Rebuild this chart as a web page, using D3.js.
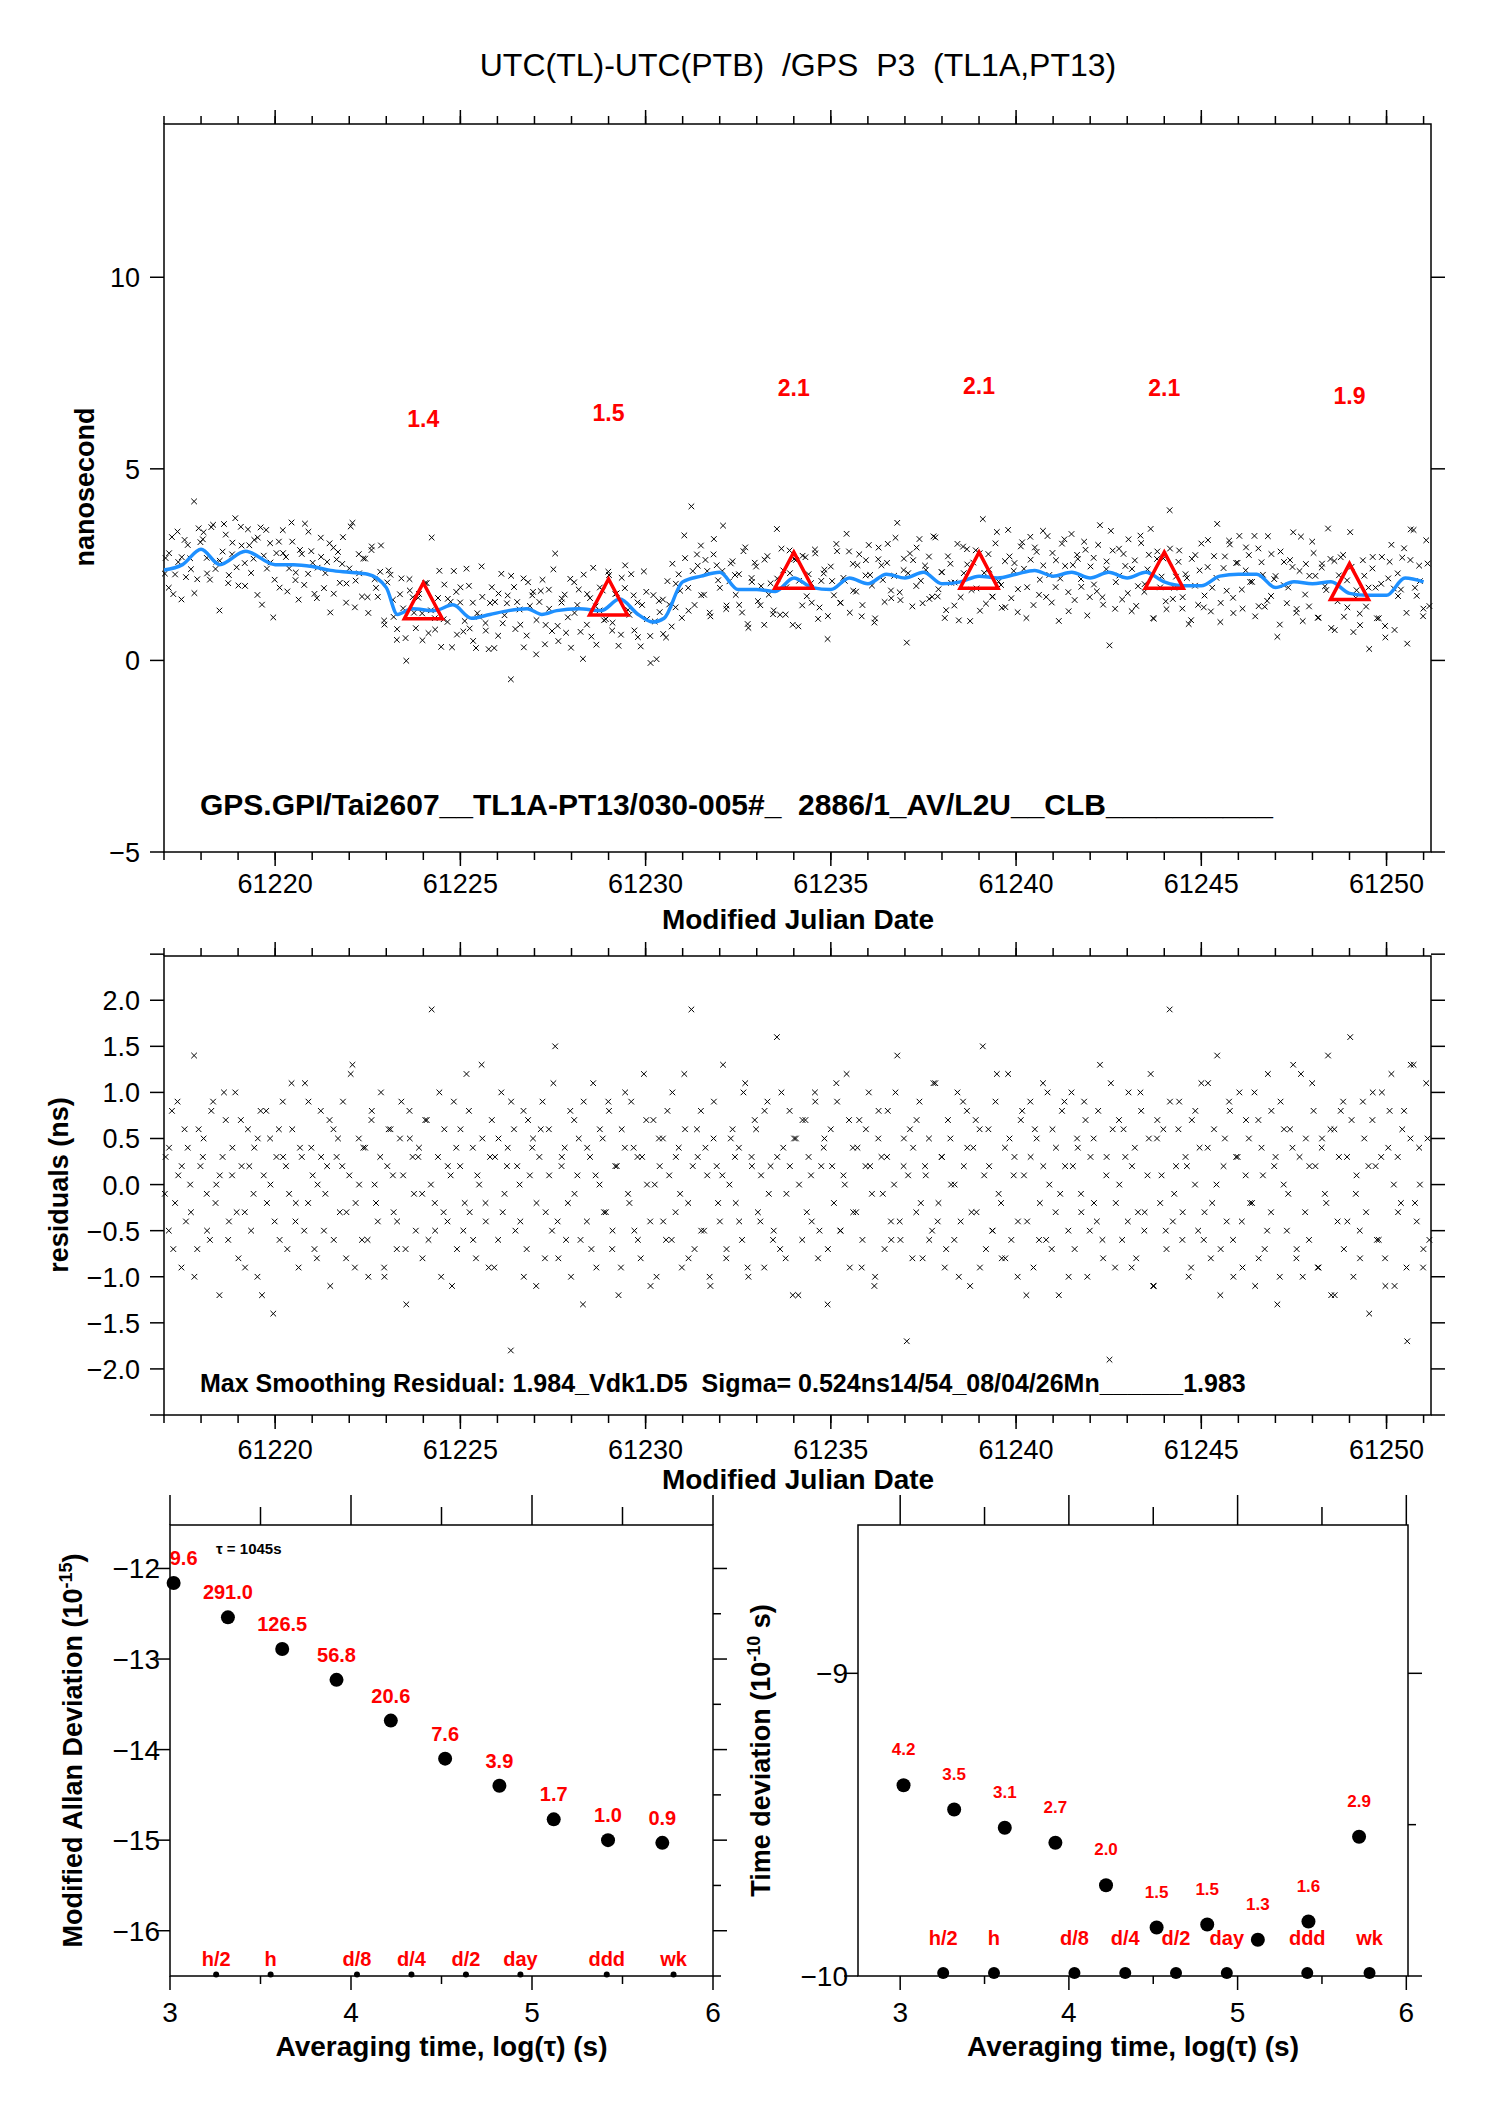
<!DOCTYPE html>
<html><head><meta charset="utf-8">
<script src="https://cdn.jsdelivr.net/npm/d3@7"></script>
<style>
body{margin:0;background:#fff}
svg text{font-family:"Liberation Sans",Arial,sans-serif;white-space:pre}
</style></head><body>
<svg id="c" width="1488" height="2105"></svg>
<script>
// ---- data ----
const smoothMjd = [61217,61217.5,61218,61218.5,61219.2,61220,61220.5,61221,61221.5,61222,61222.5,61223,61223.3,61223.7,61224.3,61224.8,61225.3,61225.8,61226.3,61226.8,61227.2,61227.6,61228.2,61228.8,61229.3,61229.8,61230.2,61230.5,61231,61231.5,61232,61232.5,61233,61233.5,61234,61234.5,61235,61235.5,61236,61236.5,61237,61237.5,61238,61238.5,61239,61239.5,61240,61240.5,61241,61241.5,61242,61242.5,61243,61243.5,61244,61244.5,61245,61245.5,61246,61246.5,61247,61247.5,61248,61248.5,61249,61249.5,61250,61250.5,61251];
const smoothNs = [2.36,2.5,2.9,2.5,2.85,2.5,2.5,2.45,2.35,2.3,2.25,1.9,1.2,1.35,1.3,1.45,1.1,1.2,1.3,1.35,1.2,1.3,1.35,1.3,1.6,1.2,1.0,1.1,2.05,2.2,2.3,1.85,1.85,1.8,2.15,1.9,1.85,2.15,2.0,2.25,2.15,2.3,2.0,2.05,2.2,2.15,2.25,2.35,2.2,2.3,2.15,2.3,2.15,2.3,2.05,1.95,1.95,2.2,2.25,2.25,1.9,2.05,2.0,2.05,1.75,1.7,1.7,2.15,2.05];
const triMjd = [61224,61229,61234,61239,61244,61249];
const triNs = [1.4,1.5,2.2,2.2,2.2,1.9];
const triLabel = ["1.4","1.5","2.1","2.1","2.1","1.9"];
const triLabelNs = [6.1,6.25,6.9,6.95,6.9,6.7];
// residuals (ns), two passes read across the record at even spacing
const residualsA = [
.3,-.5,.8,-.2,.1,-.9,.6,.4,-.3,1.4,-.7,.2,.5,-.1,-.6,.9,.0,-1.2,.3,.7,
-.4,.1,1.0,-.8,.2,-.3,.6,-.5,.4,-1.0,.8,.1,-.2,.5,-1.4,.3,-.6,.9,.2,-.1,
.6,-.4,-.9,.3,1.1,-.2,.4,-.7,.0,.8,-.5,.2,-1.1,.6,.3,-.3,.9,-.8,.1,1.3,
-.2,.5,-.6,.4,-1.0,.7,.0,-.4,1.0,-.9,.2,.6,-.3,-.7,.5,.1,-1.3,.8,.3,-.5,
.4,-.1,.7,-.6,1.9,-.2,.3,-1.0,.6,-.4,.1,.9,-.7,.2,-.5,1.2,-.3,.4,-.8,.0,
.5,-.2,-.9,.7,.3,-.6,1.0,-.1,.4,-1.8,.6,.2,-.4,.8,-.7,.1,.5,-1.1,.3,.9,
-.3,.6,-.5,1.5,-.8,.2,.4,-.2,-1.0,.7,.1,-.6,.9,-.4,.3,1.1,-.9,.0,.5,-.3,
.8,-.7,.2,-1.2,.6,.4,-.1,.9,-.5,.3,-.8,1.2,.0,-.4,.7,-1.0,.2,.5,-.6,.1,
1.0,-.3,.4,-.9,.6,-.2,1.9,-.7,.3,.8,-.5,.1,-1.1,.5,.2,-.4,1.3,-.8,.0,.6,
-.2,.4,-.6,1.1,-1.0,.3,.7,-.3,.1,-.9,.9,.2,-.5,1.6,-.7,.4,-.1,.8,-1.2,.5,
.0,-.6,.7,.3,-.4,1.0,-.8,.2,.5,-1.3,.6,-.2,.9,-.5,.1,1.2,-.9,.4,-.3,.7,
-.6,.2,1.0,-.1,-1.0,.5,.3,-.7,.8,-.4,.0,1.4,-.6,.2,-1.7,.6,.4,-.3,.9,-.8,
.1,.5,-.5,1.1,-.2,.3,-.9,.7,.0,-.6,1.0,-.4,.2,.8,-1.1,.4,-.3,.6,1.5,-.7,
.2,-.5,.9,-.1,-.8,.4,1.2,-.6,.3,-1.0,.7,.1,-.4,.9,-.9,.5,-.2,1.1,-.6,.0,
.6,-.3,-1.2,.8,.2,-.5,1.0,-.7,.4,-.1,.9,-1.0,.3,.5,-.4,1.3,-.8,.1,-1.9,.6,
-.2,.7,-.6,.3,1.0,-.9,.4,-.3,.8,-.5,.1,1.2,-1.1,.5,-.2,.6,-.7,1.9,-.4,.2,
.9,-.6,.3,-1.0,.7,.0,-.5,1.1,-.3,.4,-.8,.6,1.4,-1.2,.2,-.4,.8,-.6,.3,1.0,
-.9,.1,.5,-.2,-1.1,.7,.4,-.7,1.2,-.3,.2,-1.3,.9,.0,-.5,.6,1.3,-.8,.3,-1.0,
.5,-.6,1.1,.2,-.9,.4,-.1,1.4,-1.2,.6,-.4,.8,-.7,.3,1.6,-1.0,.1,-.5,.9,-.3,
-1.4,.7,.2,-.6,1.0,-.8,.4,1.2,-1.1,.3,-.2,.8,-1.7,.5,1.3,-.4,.0,-.9,1.1,-.6];
const residualsB = [
-.1,.4,-.7,.9,.2,-.4,.0,-1.0,.6,.3,-.5,.8,-.2,.1,1.0,-.6,.4,-.3,.7,-.9,
.2,-.1,.5,-1.2,.8,.0,-.4,.6,.3,-.7,1.1,-.2,.4,-.5,.9,.1,-.8,.3,-.1,.7,
-.6,.5,.2,-.3,1.2,-.9,.0,.4,-.6,.8,-.2,.3,-1.0,.6,.1,-.4,.9,-.7,.5,-.1,
.3,-.8,.7,.0,-.5,1.0,-.3,.2,-1.1,.4,.6,-.2,.8,-.6,.1,1.3,-.4,.3,-.9,.5,
-.3,.2,.9,-.5,.0,-1.0,.7,.4,-.2,.6,-.8,.1,1.1,-.4,.3,-.6,.8,-.1,.5,-1.3,
.4,-.7,.1,.6,-.3,.9,-.5,.2,-.9,1.0,-.2,.4,-.6,.3,.7,-1.1,.0,.5,-.4,.8,
-.6,.3,-.1,1.2,-.8,.2,.6,-.5,.4,-1.0,.9,-.2,.1,-.7,.5,.3,-.4,1.0,-.9,.2,
.6,-.4,.8,-.1,-.6,.3,1.0,-.8,.2,.5,-1.2,.7,-.3,.1,.9,-.5,.4,-.7,.2,1.1,
-.5,.0,.7,-.3,.4,-.9,.6,.2,-1.1,.8,-.1,.3,-.6,1.0,-.4,.5,.1,-.8,.7,-.2,
.2,-.6,1.1,-.4,.3,-.7,.5,.0,-1.0,.9,.4,-.3,.7,-.9,.1,.6,-.5,1.2,-.2,-.8,
.5,.1,-.4,.8,-1.2,.3,.6,-.6,.2,1.0,-.7,.4,-.1,.9,-1.0,.2,.5,-.3,.7,-.5,
-.2,.8,-.6,.3,1.1,-.9,.0,.6,-.4,.2,-.8,1.0,-.3,.5,-1.1,.7,.1,-.5,.9,-.1,
.6,-.3,.2,-.9,.8,.4,-.6,1.1,-.2,.0,-.7,.5,.9,-1.0,.3,-.4,.7,-.2,1.0,-.8,
.1,-.5,.8,.3,-1.0,.6,-.1,.4,-.7,1.2,-.3,.2,.8,-.9,.5,-.2,.6,-1.2,.3,.9,
-.4,.7,-.1,-.8,.5,.2,1.0,-.6,.3,-1.1,.8,.0,-.3,.6,-.9,1.3,-.2,.4,-.7,.5];
const logTau = [3.02,3.32,3.62,3.92,4.22,4.52,4.82,5.12,5.42,5.72];
const madev = [-12.16,-12.54,-12.89,-13.23,-13.68,-14.1,-14.4,-14.77,-15.0,-15.03];
const madevLabel = ["9.6","291.0","126.5","56.8","20.6","7.6","3.9","1.7","1.0","0.9"];
const tdev = [-9.37,-9.45,-9.51,-9.56,-9.7,-9.84,-9.83,-9.88,-9.82,-9.54];
const tdevLabel = ["4.2","3.5","3.1","2.7","2.0","1.5","1.5","1.3","1.6","2.9"];
const markLog = [3.255,3.556,4.033,4.334,4.635,4.936,5.413,5.782];
const markLabel = ["h/2","h","d/8","d/4","d/2","day","ddd","wk"];

const svg = d3.select("#c");
const RED = "#ff0000";

function tickSet(g, scale, vals, len, orient, at) {
  for (const v of vals) {
    const p = scale(v);
    if (orient === "h") g.append("line").attr("x1", p).attr("x2", p).attr("y1", at).attr("y2", at + len);
    else g.append("line").attr("y1", p).attr("y2", p).attr("x1", at).attr("x2", at + len);
  }
  g.selectAll("line").attr("stroke", "#000").attr("stroke-width", 1.5);
}
function frame(x0, y0, x1, y1) {
  svg.append("rect").attr("x", x0).attr("y", y0).attr("width", x1 - x0).attr("height", y1 - y0)
    .attr("fill", "none").attr("stroke", "#000").attr("stroke-width", 1.5);
}
function cross(g, pts, x, y) {
  const s = 2.8;
  g.append("path").attr("fill", "none").attr("stroke", "#000").attr("stroke-width", 1)
    .attr("d", pts.map(([a, b]) => { const X = x(a), Y = y(b);
      return `M${X-s},${Y-s}L${X+s},${Y+s}M${X-s},${Y+s}L${X+s},${Y-s}`; }).join(""));
}
function mjdAxis(x, top, bottom, labelY) {
  const g = svg.append("g");
  const minor = d3.range(61217, 61252, 1), major = d3.range(61220, 61251, 5);
  tickSet(g, x, minor, -8, "h", top);
  tickSet(g, x, major, -14, "h", top);
  tickSet(g, x, minor, 8, "h", bottom);
  tickSet(g, x, major, 14, "h", bottom);
  for (const v of major) svg.append("text").attr("x", x(v)).attr("y", labelY).attr("text-anchor", "middle")
    .attr("font-size", 27).text(v);
}

// ---- top: raw difference ----
const x1 = d3.scaleLinear().domain([61217, 61251.2]).range([164, 1431]);
const y1 = d3.scaleLinear().domain([-5, 14]).range([852, 124]);
const smooth = d3.scaleLinear().domain(smoothMjd).range(smoothNs);
const spread = (arr, off) => arr.map((r, i) => [61217 + (i + off) * (61251.2 - 61217) / arr.length, r]);
const resPts = spread(residualsA, 0.5).concat(spread(residualsB, 0.2));

svg.append("text").attr("x", 798).attr("y", 76).attr("text-anchor", "middle").attr("font-size", 32)
  .text("UTC(TL)-UTC(PTB)  /GPS  P3  (TL1A,PT13)");
frame(164, 124, 1431, 852);
mjdAxis(x1, 124, 852, 893);
{
  const g = svg.append("g");
  tickSet(g, y1, [-5, 0, 5, 10], -14, "v", 164);
  tickSet(g, y1, [-5, 0, 5, 10], 14, "v", 1431);
  for (const v of [-5, 0, 5, 10]) svg.append("text").attr("x", 140).attr("y", y1(v) + 10).attr("text-anchor", "end")
    .attr("font-size", 27).text(v < 0 ? "\u2212" + (-v) : v);
}
svg.append("text").attr("transform", "translate(94,487) rotate(-90)").attr("text-anchor", "middle")
  .attr("font-size", 27).attr("font-weight", "bold").text("nanosecond");
svg.append("text").attr("x", 798).attr("y", 929).attr("text-anchor", "middle").attr("font-size", 28)
  .attr("font-weight", "bold").text("Modified Julian Date");
cross(svg.append("g"), resPts.map(([m, r]) => [m, smooth(m) + r]), x1, y1);
svg.append("path").datum(smoothMjd.map((m, i) => [m, smoothNs[i]]))
  .attr("fill", "none").attr("stroke", "#1e90ff").attr("stroke-width", 3.5)
  .attr("d", d3.line().x(d => x1(d[0])).y(d => y1(d[1])).curve(d3.curveMonotoneX));
triMjd.forEach((m, i) => {
  const X = x1(m), Y = y1(triNs[i]);
  svg.append("path").attr("d", `M${X},${Y-24}L${X+19},${Y+12}L${X-19},${Y+12}Z`)
    .attr("fill", "none").attr("stroke", RED).attr("stroke-width", 3.5);
  svg.append("text").attr("x", X).attr("y", y1(triLabelNs[i])).attr("text-anchor", "middle")
    .attr("font-size", 23).attr("font-weight", "bold").attr("fill", RED).text(triLabel[i]);
});
svg.append("text").attr("x", 200).attr("y", 815).attr("font-size", 30).attr("font-weight", "bold")
  .text("GPS.GPI/Tai2607__TL1A-PT13/030-005#_  2886/1_AV/L2U__CLB__________");

// ---- middle: residuals ----
const y2 = d3.scaleLinear().domain([-2.5, 2.48]).range([1415, 956]);
frame(164, 956, 1431, 1415);
mjdAxis(x1, 956, 1415, 1459);
{
  const g = svg.append("g");
  const v = d3.range(-2.5, 2.51, 0.5);
  tickSet(g, y2, v, -14, "v", 164);
  tickSet(g, y2, v, 14, "v", 1431);
  for (const t of d3.range(-2, 2.01, 0.5)) svg.append("text").attr("x", 140).attr("y", y2(t) + 10)
    .attr("text-anchor", "end").attr("font-size", 27).text(t < 0 ? "\u2212" + (-t).toFixed(1) : t.toFixed(1));
}
cross(svg.append("g"), resPts, x1, y2);
svg.append("text").attr("transform", "translate(68,1185) rotate(-90)").attr("text-anchor", "middle")
  .attr("font-size", 27).attr("font-weight", "bold").text("residuals (ns)");
svg.append("text").attr("x", 200).attr("y", 1392).attr("font-size", 25).attr("font-weight", "bold")
  .text("Max Smoothing Residual: 1.984_Vdk1.D5  Sigma= 0.524ns14/54_08/04/26Mn______1.983");
svg.append("text").attr("x", 798).attr("y", 1489).attr("text-anchor", "middle").attr("font-size", 28)
  .attr("font-weight", "bold").text("Modified Julian Date");

// ---- bottom panels ----
function stabPanel(opt) {
  const x = d3.scaleLinear().domain(opt.xd).range([opt.l, opt.r]);
  const y = d3.scaleLinear().domain(opt.yd).range([opt.b, opt.t]);
  frame(opt.l, opt.t, opt.r, opt.b);
  const g = svg.append("g");
  const xin = (v) => v >= opt.xd[0] && v <= opt.xd[1];
  tickSet(g, x, [3, 4, 5, 6].filter(xin), -30, "h", opt.t);
  tickSet(g, x, [3.5, 4.5, 5.5].filter(xin), -18, "h", opt.t);
  tickSet(g, x, [3, 4, 5, 6].filter(xin), 14, "h", opt.b);
  tickSet(g, x, [3.5, 4.5, 5.5].filter(xin), 8, "h", opt.b);
  tickSet(g, y, opt.ymaj, -14, "v", opt.l);
  tickSet(g, y, opt.ymaj, 14, "v", opt.r);
  tickSet(g, y, opt.ymin, 8, "v", opt.r);
  for (const v of [3, 4, 5, 6]) svg.append("text").attr("x", x(v)).attr("y", opt.b + 46).attr("text-anchor", "middle")
    .attr("font-size", 28).text(v);
  for (const v of opt.ymaj) svg.append("text").attr("x", opt.l - 10).attr("y", y(v) + 10).attr("text-anchor", "end")
    .attr("font-size", 28).text("\u2212" + (-v));
  svg.append("text").attr("x", (opt.l + opt.r) / 2).attr("y", opt.b + 80).attr("text-anchor", "middle")
    .attr("font-size", 28).attr("font-weight", "bold").text("Averaging time, log(\u03c4) (s)");
  const yl = svg.append("text").attr("transform", `translate(${opt.ylx},${(opt.t + opt.b) / 2}) rotate(-90)`)
    .attr("text-anchor", "middle").attr("font-size", 27).attr("font-weight", "bold");
  yl.append("tspan").text(opt.ylab);
  yl.append("tspan").attr("dy", -10).attr("font-size", 18).text("-" + opt.exp);
  yl.append("tspan").attr("dy", 10).text(opt.yunit);
  logTau.forEach((v, i) => {
    svg.append("circle").attr("cx", x(v)).attr("cy", y(opt.vals[i])).attr("r", 7).attr("fill", "#000");
    svg.append("text").attr("x", x(v) + (opt.dx ? opt.dx[i] : 0)).attr("y", y(opt.vals[i]) - opt.lab).attr("text-anchor", "middle")
      .attr("font-size", opt.fs).attr("font-weight", "bold").attr("fill", RED).text(opt.labels[i]);
  });
  markLog.forEach((v, i) => {
    svg.append("circle").attr("cx", x(v)).attr("cy", opt.b - opt.mr / 2).attr("r", opt.mr).attr("fill", "#000");
    svg.append("text").attr("x", x(v)).attr("y", opt.my).attr("text-anchor", "middle")
      .attr("font-size", 20).attr("font-weight", "bold").attr("fill", RED).text(markLabel[i]);
  });
  return { x, y };
}
stabPanel({ l: 170, r: 713, t: 1525, b: 1976, xd: [3, 6], yd: [-16.5, -11.52],
  ymaj: [-12, -13, -14, -15, -16], ymin: [-12.5, -13.5, -14.5, -15.5, -16.5], vals: madev, labels: madevLabel,
  lab: 18, fs: 20, dx: [10, 0, 0, 0, 0, 0, 0, 0, 0, 0], mr: 3, my: 1966, ylx: 82,
  ylab: "Modified Allan Deviation (10", exp: "15", yunit: ")" });
svg.append("text").attr("x", 216).attr("y", 1554).attr("font-size", 15).attr("font-weight", "bold").text("\u03c4 = 1045s");
stabPanel({ l: 858, r: 1408, t: 1525, b: 1976, xd: [2.75, 6.01], yd: [-10, -8.51],
  ymaj: [-9, -10], ymin: [-9.5], vals: tdev, labels: tdevLabel,
  lab: 30, fs: 17, mr: 6, my: 1945, ylx: 770,
  ylab: "Time deviation (10", exp: "10", yunit: " s)" });
</script></body></html>
